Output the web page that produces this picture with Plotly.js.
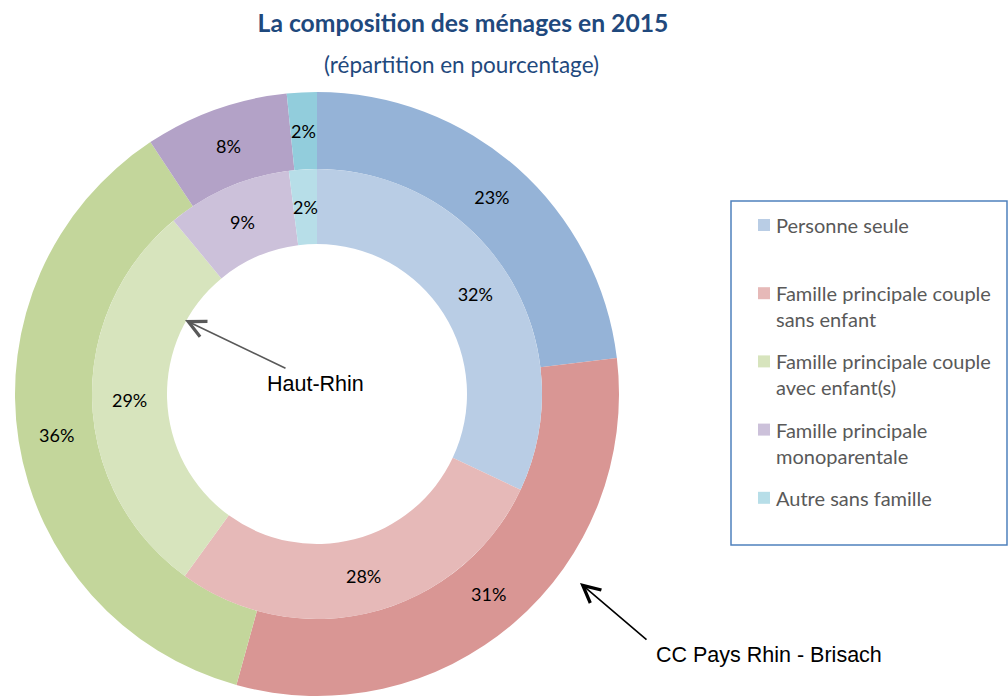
<!DOCTYPE html>
<html>
<head>
<meta charset="utf-8">
<script src="https://cdn.plot.ly/plotly-3.0.1.min.js"></script>
<style>
html,body{margin:0;padding:0;background:#fff;}
#chart{width:1008px;height:696px;}
</style>
</head>
<body>
<div id="chart"></div>
<script>
// ---- data ----
const categories = [
  "Personne seule",
  "Famille principale couple sans enfant",
  "Famille principale couple avec enfant(s)",
  "Famille principale monoparentale",
  "Autre sans famille"
];
const ccPaysRhinBrisach = [23.1, 31.2, 36.4, 7.7, 1.6];   // outer ring (labels rounded)
const hautRhin = [32, 28, 29, 9, 2];                       // inner ring
const outerColors = ["#95B3D7", "#D99694", "#C3D69B", "#B3A2C7", "#92CDDC"];
const innerColors = ["#B9CDE5", "#E6B9B8", "#D7E4BD", "#CCC1DA", "#B7DEE8"];
const titleText = "La composition des ménages en 2015";
const subtitleText = "(répartition en pourcentage)";
const outerName = "CC Pays Rhin - Brisach";
const innerName = "Haut-Rhin";

// ---- layout helpers (pixel -> paper) ----
const W = 1008, H = 696;
const px = x => x / W;
const py = y => 1 - y / H;
const cx = 317, cy = 394, rOuter = 302, rMid = 225, rHole = 150;
const dom = r => ({x: [px(cx - r), px(cx + r)], y: [py(cy + r), py(cy - r)]});

const pctFont = {family: "Lato, 'Open Sans', sans-serif", size: 18, color: "#000000"};
const SMALL = 5; // slices too thin for Plotly's own inside placement

const ringTrace = (name, vals, colors, r0, r1) => ({
  type: "pie", name: name, labels: categories, values: vals,
  sort: false, direction: "clockwise", rotation: 0, hole: r0 / r1,
  domain: dom(r1),
  marker: {colors: colors, line: {width: 0}},
  texttemplate: "%{value:.0f}%",
  textposition: vals.map(v => v < SMALL ? "none" : "inside"),
  insidetextorientation: "horizontal",
  textfont: pctFont, showlegend: false, hoverinfo: "label+value"
});
const traces = [
  ringTrace(outerName, ccPaysRhinBrisach, outerColors, rMid, rOuter),
  ringTrace(innerName, hautRhin, innerColors, rHole, rMid)
];

const annotations = [];
// labels of thin slices, centred in the slice at mid-ring radius (derived from the data)
function smallLabels(vals, r0, r1) {
  const total = vals.reduce((a, b) => a + b, 0);
  let cum = 0;
  vals.forEach(v => {
    if (v < SMALL) {
      const th = 2 * Math.PI * (cum + v / 2) / total;
      const r = (r0 + r1) / 2;
      annotations.push({
        xref: "paper", yref: "paper",
        x: px(cx + r * Math.sin(th)), y: py(cy - r * Math.cos(th)),
        xanchor: "center", yanchor: "middle", showarrow: false,
        text: Math.round(v) + "%", font: pctFont
      });
    }
    cum += v;
  });
}
smallLabels(ccPaysRhinBrisach, rMid, rOuter);
smallLabels(hautRhin, rHole, rMid);

// ---- manual legend built from categories ----
function wrap(s, n) {
  const words = s.split(" "); const lines = []; let cur = "";
  words.forEach(w => {
    if (cur && (cur + " " + w).length > n) { lines.push(cur); cur = w; }
    else cur = cur ? cur + " " + w : w;
  });
  if (cur) lines.push(cur);
  return lines;
}
const shapes = [{
  type: "rect", xref: "paper", yref: "paper",
  x0: px(731), x1: px(1007), y0: py(545), y1: py(201),
  line: {color: "#4F81BD", width: 1.5}, fillcolor: "rgba(0,0,0,0)"
}];
const legendFont = {family: "Lato, 'Open Sans', sans-serif", size: 20, color: "#595959"};
categories.forEach((c, i) => {
  const y0 = 225 + i * 68.2;
  shapes.push({
    type: "rect", xref: "paper", yref: "paper",
    x0: px(758), x1: px(770), y0: py(y0 + 6), y1: py(y0 - 6),
    line: {width: 0}, fillcolor: innerColors[i]
  });
  wrap(c, 25).forEach((line, j) => {
    annotations.push({
      xref: "paper", yref: "paper", x: px(774), y: py(y0 + j * 26),
      xanchor: "left", yanchor: "middle", showarrow: false,
      text: line, font: legendFont
    });
  });
});

// subtitle
annotations.push({
  xref: "paper", yref: "paper", x: px(461), y: py(65), xanchor: "center", yanchor: "middle",
  showarrow: false, text: subtitleText,
  font: {family: "Lato, 'Open Sans', sans-serif", size: 22.5, color: "#1F497D"}
});
// ring labels with arrows
annotations.push({
  xref: "paper", yref: "paper", x: px(185), y: py(320), ax: 102, ay: 49,
  text: "", showarrow: true, arrowhead: 5, arrowsize: 2.1, arrowwidth: 1.6, arrowcolor: "#595959"
});
annotations.push({
  xref: "paper", yref: "paper", x: px(315), y: py(384), xanchor: "center", yanchor: "middle",
  showarrow: false, text: innerName,
  font: {family: "'Liberation Sans', Arial, sans-serif", size: 21.5, color: "#000000"}
});
annotations.push({
  xref: "paper", yref: "paper", x: px(580), y: py(583), ax: 68, ay: 58,
  text: "", showarrow: true, arrowhead: 5, arrowsize: 2.1, arrowwidth: 1.6, arrowcolor: "#000000"
});
annotations.push({
  xref: "paper", yref: "paper", x: px(769), y: py(655), xanchor: "center", yanchor: "middle",
  showarrow: false, text: outerName,
  font: {family: "'Liberation Sans', Arial, sans-serif", size: 21.5, color: "#000000"}
});

const layout = {
  width: W, height: H,
  margin: {l: 0, r: 0, t: 0, b: 0, pad: 0},
  paper_bgcolor: "#ffffff",
  showlegend: false,
  uniformtext: {mode: "show", minsize: 18},
  title: {
    text: titleText, x: px(463), xanchor: "center", y: py(23), yanchor: "middle",
    font: {family: "Lato, 'Open Sans', sans-serif", size: 24.7, color: "#1F497D", weight: "bold"}
  },
  shapes: shapes,
  annotations: annotations
};

Plotly.newPlot("chart", traces, layout, {displayModeBar: false, staticPlot: true});
</script>
</body>
</html>
